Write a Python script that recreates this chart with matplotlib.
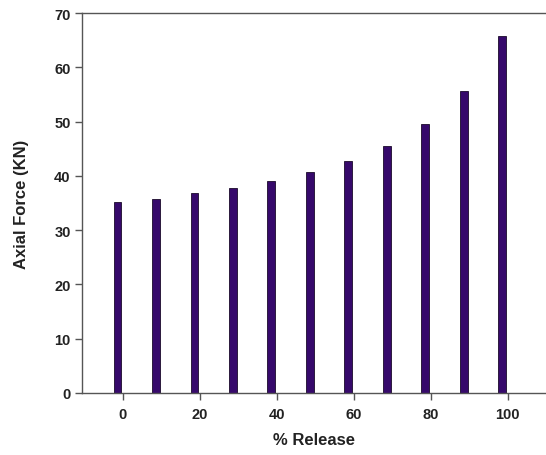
import matplotlib
matplotlib.use("Agg")
import matplotlib.pyplot as plt

# % release and corresponding axial force (kN)
release = [0, 10, 20, 30, 40, 50, 60, 70, 80, 90, 100]
axial_force = [35.2, 35.8, 36.8, 37.8, 39.1, 40.7, 42.8, 45.6, 49.6, 55.7, 65.8]

x_ticks = [0, 20, 40, 60, 80, 100]
y_ticks = [0, 10, 20, 30, 40, 50, 60, 70]

FONT = ["Liberation Sans Narrow", "Liberation Sans", "DejaVu Sans"]
BAR_COLOR = "#36096b"

fig = plt.figure(figsize=(5.46, 4.56), dpi=100)
ax = fig.add_axes([0.151, 0.136, 0.849, 0.833])

# bars sit slightly left of their tick positions in the original
ax.bar([r - 1.4 for r in release], axial_force, width=2.0,
       color=BAR_COLOR, edgecolor="#1a0a2a", linewidth=0.6)

ax.set_xlim(-10.5, 110)
ax.set_ylim(0, 70)
ax.set_xticks(x_ticks)
ax.set_yticks(y_ticks)

for s in ["left", "bottom", "top"]:
    ax.spines[s].set_color("#555555")
    ax.spines[s].set_linewidth(1.0)
ax.spines["right"].set_visible(False)

ax.tick_params(axis="both", direction="out", length=5, width=1,
               color="#555555", labelsize=10.5)
ax.tick_params(axis="x", pad=5)
for lab in ax.get_xticklabels() + ax.get_yticklabels():
    lab.set_family(FONT)
    lab.set_fontweight("bold")
    lab.set_color("#222222")

ax.set_xlabel("% Release", fontsize=12, fontweight="bold", family=FONT,
              color="#222222", labelpad=8)
ax.set_ylabel("Axial Force (KN)", fontsize=12, fontweight="bold", family=FONT,
              color="#222222", labelpad=18)

fig.savefig("out.png", dpi=100, facecolor="white")
